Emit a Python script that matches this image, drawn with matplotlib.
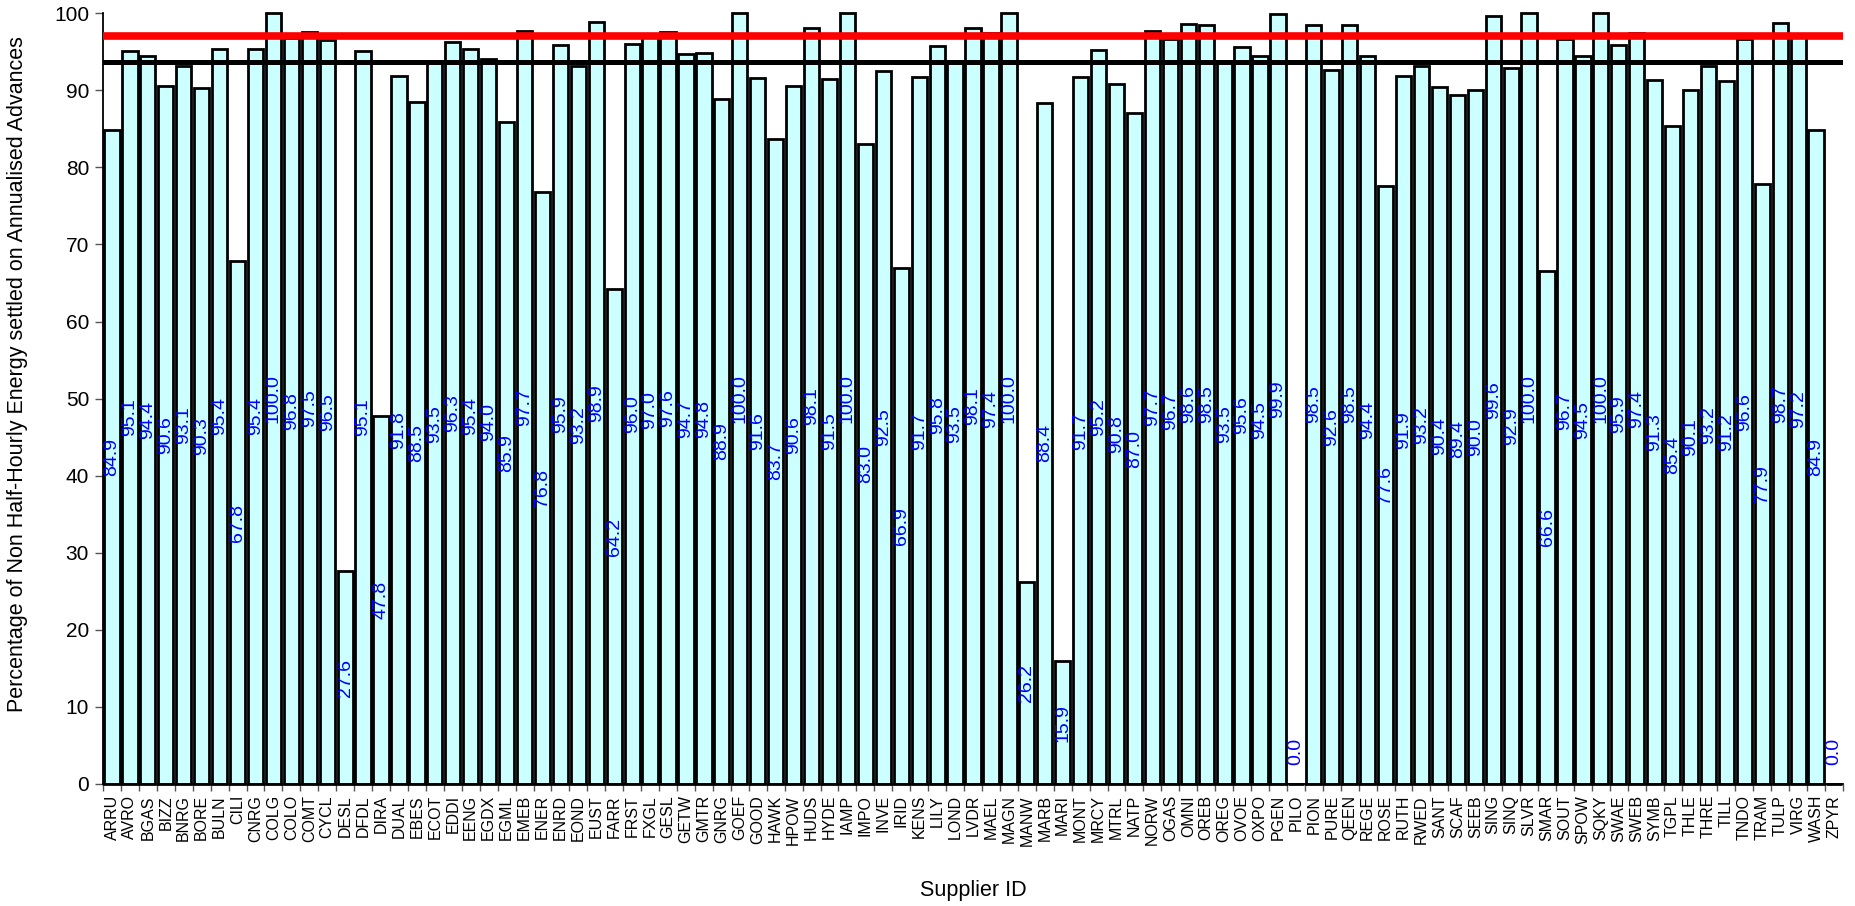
import numpy as np
import matplotlib.pyplot as plt

plt.rcParams['font.family'] = ['Liberation Sans', 'DejaVu Sans']

# supplier codes along the x axis
suppliers = ['ARRU', 'AVRO', 'BGAS', 'BIZZ', 'BNRG', 'BORE', 'BULN', 'CILI', 'CNRG', 'COLG',
             'COLO', 'COMT', 'CYCL', 'DESL', 'DFDL', 'DIRA', 'DUAL', 'EBES', 'ECOT', 'EDDI',
             'EENG', 'EGDX', 'EGML', 'EMEB', 'ENER', 'ENRD', 'EOND', 'EUST', 'FARR', 'FRST',
             'FXGL', 'GESL', 'GETW', 'GMTR', 'GNRG', 'GOEF', 'GOOD', 'HAWK', 'HPOW', 'HUDS',
             'HYDE', 'IAMP', 'IMPO', 'INVE', 'IRID', 'KENS', 'LILY', 'LOND', 'LVDR', 'MAEL',
             'MAGN', 'MANW', 'MARB', 'MARI', 'MONT', 'MRCY', 'MTRL', 'NATP', 'NORW', 'OGAS',
             'OMNI', 'OREB', 'OREG', 'OVOE', 'OXPO', 'PGEN', 'PILO', 'PION', 'PURE', 'QEEN',
             'REGE', 'ROSE', 'RUTH', 'RWED', 'SANT', 'SCAF', 'SEEB', 'SING', 'SINQ', 'SLVR',
             'SMAR', 'SOUT', 'SPOW', 'SQKY', 'SWAE', 'SWEB', 'SYMB', 'TGPL', 'THLE', 'THRE',
             'TILL', 'TNDO', 'TRAM', 'TULP', 'VIRG', 'WASH', 'ZPYR']

# % of NHH energy settled on annualised advances
percent = [84.9, 95.1, 94.4, 90.6, 93.1, 90.3, 95.4, 67.8, 95.4, 100.0,
           96.8, 97.5, 96.5, 27.6, 95.1, 47.8, 91.8, 88.5, 93.5, 96.3,
           95.4, 94.0, 85.9, 97.7, 76.8, 95.9, 93.2, 98.9, 64.2, 96.0,
           97.0, 97.6, 94.7, 94.8, 88.9, 100.0, 91.6, 83.7, 90.6, 98.1,
           91.5, 100.0, 83.0, 92.5, 66.9, 91.7, 95.8, 93.5, 98.1, 97.4,
           100.0, 26.2, 88.4, 15.9, 91.7, 95.2, 90.8, 87.0, 97.7, 96.7,
           98.6, 98.5, 93.5, 95.6, 94.5, 99.9, 0.0, 98.5, 92.6, 98.5,
           94.4, 77.6, 91.9, 93.2, 90.4, 89.4, 90.0, 99.6, 92.9, 100.0,
           66.6, 96.7, 94.5, 100.0, 95.9, 97.4, 91.3, 85.4, 90.1, 93.2,
           91.2, 96.6, 77.9, 98.7, 97.2, 84.9, 0.0]

red_level = 97.0
black_level = 93.7

fig = plt.figure(figsize=(18.56, 9.06), dpi=100)
ax = fig.add_axes([0.0555, 0.1347, 0.9375, 0.8507])

x = np.arange(len(suppliers))
ax.bar(x, percent, width=0.85, color='#CCFFFF', edgecolor='black',
       linewidth=2.0, clip_on=False, zorder=2)
ax.axhline(black_level, color='black', lw=3.6, zorder=3)
ax.axhline(red_level, color='red', lw=5.5, zorder=3)

# value labels in the middle of each bar
for xi, v in zip(x, percent):
    ax.text(xi, max(v / 2, 4.2), f'{v:.1f}', rotation=90, ha='center', va='center',
            color='blue', fontsize=14, zorder=4)

ax.set_xlim(-0.5, len(suppliers) - 0.5)
ax.set_ylim(0, 100)
ax.set_yticks(range(0, 101, 10))
ax.tick_params(axis='y', labelsize=15, length=6, width=1, color='#555555', pad=4)

ax.set_xticks(x)
ax.set_xticklabels(suppliers, rotation=90, fontsize=11.5)
ax.set_xticks(np.arange(len(suppliers) + 1) - 0.5, minor=True)
ax.tick_params(axis='x', which='major', length=0, pad=8)
ax.tick_params(axis='x', which='minor', length=5, width=1, color='#555555')

for s in ['top', 'right']:
    ax.spines[s].set_visible(False)
for s in ['left', 'bottom']:
    ax.spines[s].set_linewidth(1.3)
    ax.spines[s].set_color('black')

ax.set_xlabel('Supplier ID', fontsize=15.5)
ax.xaxis.set_label_coords(0.5, -0.124)
fig.text(18 / 1856, 1 - 374 / 906,
         'Percentage of Non Half-Hourly Energy settled on Annualised Advances',
         rotation=90, ha='center', va='center', fontsize=15.5)

fig.savefig('out.png', dpi=100)
